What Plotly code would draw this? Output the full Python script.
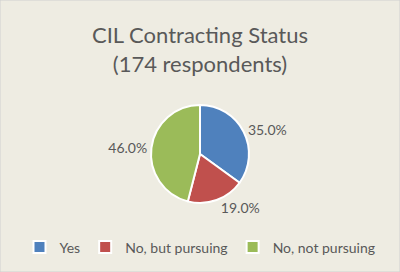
import plotly.graph_objects as go

categories = ["Yes", "No, but pursuing", "No, not pursuing"]
values = [35.0, 19.0, 46.0]
colors = ["#4F81BD", "#C0504D", "#9BBB59"]
title_lines = ["CIL Contracting Status", "(174 respondents)"]

fig = go.Figure(go.Pie(
    labels=categories,
    values=values,
    sort=False,
    direction="clockwise",
    rotation=0,
    marker=dict(colors=colors, line=dict(color="white", width=2)),
    textposition="outside",
    texttemplate="%{percent:.1%}",
    textfont=dict(family="Lato", size=14, color="#595959"),
    domain=dict(x=[0.3775, 0.6225], y=[0.254, 0.614]),
    hoverinfo="label+percent",
))

fig.update_layout(
    width=400, height=272,
    margin=dict(l=0, r=0, t=0, b=0),
    paper_bgcolor="#EEECE2",
    plot_bgcolor="#EEECE2",
    title=dict(text="<br>".join(title_lines), x=0.5, xanchor="center",
               y=0.842, yanchor="middle",
               font=dict(family="Lato", size=22, color="#595959")),
    legend=dict(orientation="h", x=0.5, xanchor="center", y=0.09, yanchor="middle",
                font=dict(family="Lato", size=14, color="#595959"),
                itemwidth=30, traceorder="normal"),
    shapes=[dict(type="rect", xref="paper", yref="paper", x0=0, x1=1, y0=0, y1=1,
                 line=dict(color="#D0D0D0", width=1))],
)

fig.write_html("out.html")
